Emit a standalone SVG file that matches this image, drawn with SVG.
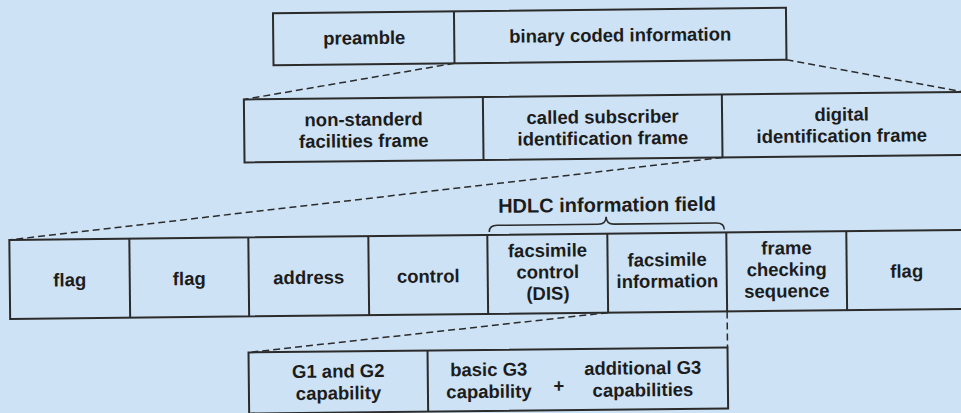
<svg xmlns="http://www.w3.org/2000/svg" width="961" height="413" viewBox="0 0 961 413">
  <style>
    .box { fill: none; stroke: #2b2b2b; stroke-width: 2; }
    .div { stroke: #2b2b2b; stroke-width: 2; }
    .dash { fill: none; stroke: #2b2b2b; stroke-width: 1.5; stroke-dasharray: 7 4; }
    .brace { fill: none; stroke: #2b2b2b; stroke-width: 1.6; }
    text { font-family: "Liberation Sans", Arial, sans-serif; font-weight: bold; font-size: 18.5px; fill: #1c1c1c; text-anchor: middle; }
    .label { font-size: 20px; }
  </style>
  <rect x="0" y="0" width="961" height="413" fill="#cde2f4"/>
  <g transform="rotate(-0.6 480 206)">
    <!-- fax message: preamble + binary coded information -->
    <g id="message">
      <rect class="box" x="275" y="11" width="513" height="52"/>
      <line class="div" x1="456" y1="11" x2="456" y2="63"/>
      <text x="366" y="43">preamble</text>
      <text x="622" y="43">binary coded information</text>
    </g>
    <!-- binary coded information frames -->
    <g id="frames">
      <rect class="box" x="245" y="97" width="720" height="63"/>
      <line class="div" x1="484" y1="97" x2="484" y2="160"/>
      <line class="div" x1="723" y1="97" x2="723" y2="160"/>
      <text x="364.5" y="124.5">non-standerd<tspan x="364.5" dy="21.5">facilities frame</tspan></text>
      <text x="603.5" y="124.5">called subscriber<tspan x="603.5" dy="21.5">identification frame</tspan></text>
      <text x="842.5" y="124.5">digital<tspan x="842.5" dy="21.5">identification frame</tspan></text>
    </g>
    <!-- HDLC frame -->
    <g id="hdlc-frame">
      <rect class="box" x="9" y="235" width="958" height="79"/>
      <line class="div" x1="129" y1="235" x2="129" y2="314"/>
      <line class="div" x1="248" y1="235" x2="248" y2="314"/>
      <line class="div" x1="368" y1="235" x2="368" y2="314"/>
      <line class="div" x1="487" y1="235" x2="487" y2="314"/>
      <line class="div" x1="607" y1="235" x2="607" y2="314"/>
      <line class="div" x1="726" y1="235" x2="726" y2="314"/>
      <line class="div" x1="846" y1="235" x2="846" y2="314"/>
      <text x="69" y="282">flag</text>
      <text x="188.5" y="282">flag</text>
      <text x="308" y="282">address</text>
      <text x="427.5" y="282">control</text>
      <text x="547" y="257.5">facsimile<tspan x="547" dy="21.5">control</tspan><tspan x="547" dy="21.5">(DIS)</tspan></text>
      <text x="666.5" y="268">facsimile<tspan x="666.5" dy="21.5">information</tspan></text>
      <text x="786" y="257.5">frame<tspan x="786" dy="21.5">checking</tspan><tspan x="786" dy="21.5">sequence</tspan></text>
      <text x="906" y="282">flag</text>
    </g>
    <!-- HDLC information field brace and label -->
    <g id="info-field">
      <path class="brace" d="M489,232 Q489,225.5 497,225.5 L598,225.5 Q606,225.5 606,218 Q606,225.5 614,225.5 L716,225.5 Q724,225.5 724,232"/>
      <text class="label" x="607" y="213">HDLC information field</text>
    </g>
    <!-- DIS capability fields -->
    <g id="capabilities">
      <rect class="box" x="247" y="350" width="479" height="61"/>
      <line class="div" x1="426" y1="350" x2="426" y2="411"/>
      <text x="336.5" y="376">G1 and G2<tspan x="336.5" dy="22">capability</tspan></text>
      <text x="487" y="376">basic G3<tspan x="487" dy="22">capability</tspan></text>
      <text x="557" y="393">+</text>
      <text x="641" y="376">additional G3<tspan x="641" dy="22">capabilities</tspan></text>
    </g>
    <!-- expansion connectors -->
    <g id="connectors">
      <line class="dash" x1="456" y1="63" x2="245" y2="97"/>
      <line class="dash" x1="788" y1="63" x2="965" y2="97"/>
      <line class="dash" x1="723" y1="160" x2="9" y2="235"/>
      <line class="dash" x1="607" y1="314" x2="247" y2="350"/>
      <line class="dash" x1="726" y1="314" x2="726" y2="350"/>
    </g>
  </g>
</svg>
